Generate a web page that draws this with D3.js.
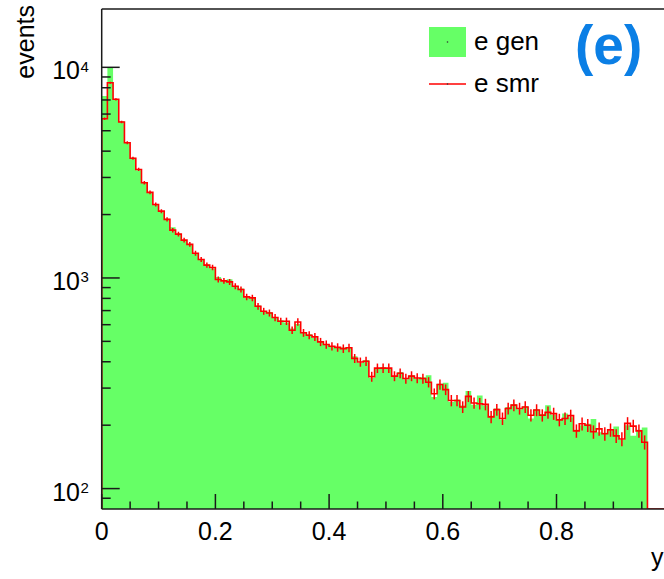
<!DOCTYPE html>
<html>
<head>
<meta charset="utf-8">
<script src="https://cdn.jsdelivr.net/npm/d3@7"></script>
<style>
  html, body { margin: 0; padding: 0; background: #ffffff; }
  svg { display: block; font-family: "Liberation Sans", Arial, Helvetica, sans-serif; }
</style>
</head>
<body>
<svg id="chart" width="664" height="579"></svg>
<script>
// Histogram binning along y (0.01 wide bins starting at 0)
const binStart = 0;
const binWidth = 0.01;

// Generated-level electron counts per bin
const genCounts = [
  7300, 10000, 7050, 5550, 4400, 3720, 3250, 2850, 2560, 2240,
  2060, 1910, 1740, 1620, 1500, 1450, 1300, 1230, 1160, 1110,
  1010, 965, 985, 905, 890, 810, 800, 740, 690, 690,
  645, 630, 615, 575, 605, 550, 540, 520, 500, 480,
  470, 465, 468, 470, 425, 395, 408, 335, 370, 378,
  370, 340, 358, 330, 345, 332, 338, 345, 272, 315,
  318, 258, 265, 248, 291, 250, 277, 248, 222, 240,
  212, 244, 252, 238, 246, 215, 238, 226, 249, 224,
  214, 227, 218, 190, 200, 203, 214, 185, 184, 188,
  197, 170, 200, 178, 190, 195
];

// Smeared electron counts per bin
const smrCounts = [
  5700, 8450, 7050, 5500, 4385, 3700, 3275, 2830, 2550, 2234,
  2076, 1897, 1687, 1615, 1513, 1443, 1310, 1224, 1151, 1122,
  984, 969, 958, 914, 882, 813, 804, 734, 695, 682,
  649, 623, 623, 565, 618, 549, 535, 525, 497, 483,
  474, 468, 462, 466, 415, 399, 402, 340, 373, 373,
  373, 342, 353, 333, 342, 335, 333, 320, 282, 312,
  295, 262, 262, 244, 274, 255, 253, 251, 219, 237,
  215, 240, 249, 240, 244, 223, 236, 223, 230, 227,
  212, 215, 222, 188, 203, 200, 186, 192, 182, 190,
  178, 172, 204, 198, 188, 166
];

// Axis ticks
const xMajorTicks = [0, 0.2, 0.4, 0.6, 0.8];
const xTickLabels = ["0", "0.2", "0.4", "0.6", "0.8"];
const xMinorStep = 0.05;
const yMajorTicks = [100, 1000, 10000];
const yTickExponents = ["2", "3", "4"];

const legendLabels = ["e gen", "e smr"];
const yTitle = "events";
const xTitle = "y";
const panelTag = "(e)";

const greenFill = "#66ff66";
const smrColor = "#ff0000";

const svg = d3.select("#chart");

const frame = { left: 101.7, right: 670.2, top: 9, bottom: 509 };
const x = d3.scaleLinear().domain([0, 1]).range([frame.left, frame.right]);
const y = d3.scaleLog().domain([80, 18920]).range([frame.bottom, frame.top]);
const yFloor = y.domain()[0];

svg.append("defs").append("clipPath").attr("id", "plotClip")
  .append("rect")
  .attr("x", frame.left).attr("y", frame.top)
  .attr("width", frame.right - frame.left).attr("height", frame.bottom - frame.top);

const plot = svg.append("g").attr("clip-path", "url(#plotClip)");

const binLo = i => binStart + i * binWidth;
const nBins = genCounts.length;
const lastEdge = binLo(nBins);

// Filled histogram of generated counts
const genPts = genCounts.map((v, i) => [binLo(i), v]);
genPts.push([lastEdge, genCounts[nBins - 1]]);
const genArea = d3.area()
  .curve(d3.curveStepAfter)
  .x(d => x(d[0]))
  .y0(y(yFloor))
  .y1(d => y(Math.max(d[1], yFloor)));
plot.append("path")
  .attr("d", genArea(genPts))
  .attr("fill", greenFill)
  .attr("stroke", "none");

// Smeared histogram outline
const smrPts = [[binStart, yFloor]];
smrCounts.forEach((v, i) => smrPts.push([binLo(i), v]));
smrPts.push([lastEdge, yFloor]);
smrPts.push([x.domain()[1], yFloor]);
const smrLine = d3.line()
  .curve(d3.curveStepAfter)
  .x(d => x(d[0]))
  .y(d => y(Math.max(d[1], yFloor)));
plot.append("path")
  .attr("d", smrLine(smrPts))
  .attr("fill", "none")
  .attr("stroke", smrColor)
  .attr("stroke-width", 1.6);

// Poisson error bars on the smeared histogram
plot.append("g").selectAll("line")
  .data(smrCounts)
  .join("line")
  .attr("x1", (v, i) => x(binLo(i) + binWidth / 2))
  .attr("x2", (v, i) => x(binLo(i) + binWidth / 2))
  .attr("y1", v => y(v + Math.sqrt(v)))
  .attr("y2", v => y(Math.max(v - Math.sqrt(v), yFloor)))
  .attr("stroke", smrColor)
  .attr("stroke-width", 1.5);

// Frame and axes
const axisColor = "#1a1a1a";
svg.append("line")
  .attr("x1", frame.left).attr("x2", frame.right)
  .attr("y1", frame.top).attr("y2", frame.top)
  .attr("stroke", axisColor).attr("stroke-width", 1.5);

const axes = svg.append("g").attr("stroke", axisColor).attr("stroke-width", 1.5);

// x ticks (inward)
const xMinor = d3.range(0, 1 + 1e-9, xMinorStep).filter(t => !xMajorTicks.some(m => Math.abs(m - t) < 1e-9));
axes.selectAll(".xmaj").data(xMajorTicks).join("line")
  .attr("x1", d => x(d)).attr("x2", d => x(d))
  .attr("y1", frame.bottom).attr("y2", frame.bottom - 15);
axes.selectAll(".xmin").data(xMinor).join("line")
  .attr("class", "xmin")
  .attr("x1", d => x(d)).attr("x2", d => x(d))
  .attr("y1", frame.bottom).attr("y2", frame.bottom - 7.5);

// y ticks (inward)
const yMinor = [];
[10, 100, 1000, 10000].forEach(dec => {
  for (let k = 2; k <= 9; k++) {
    const v = dec * k;
    if (v > y.domain()[0] && v < y.domain()[1]) yMinor.push(v);
  }
});
axes.selectAll(".ymaj").data(yMajorTicks).join("line")
  .attr("class", "ymaj")
  .attr("x1", frame.left).attr("x2", frame.left + 18)
  .attr("y1", d => y(d)).attr("y2", d => y(d));
axes.selectAll(".ymin").data(yMinor).join("line")
  .attr("class", "ymin")
  .attr("x1", frame.left).attr("x2", frame.left + 9)
  .attr("y1", d => y(d)).attr("y2", d => y(d));

axes.append("line")
  .attr("x1", frame.left).attr("x2", frame.left)
  .attr("y1", frame.top).attr("y2", frame.bottom);
axes.append("line")
  .attr("x1", frame.left).attr("x2", frame.right)
  .attr("y1", frame.bottom).attr("y2", frame.bottom);

// Tick labels
svg.append("g").selectAll("text").data(xMajorTicks).join("text")
  .attr("x", d => x(d)).attr("y", frame.bottom + 31)
  .attr("text-anchor", "middle")
  .attr("font-size", 25)
  .attr("fill", "#000")
  .text((d, i) => xTickLabels[i]);

const yl = svg.append("g").selectAll("g").data(yMajorTicks).join("g");
yl.append("text")
  .attr("x", 80).attr("y", d => y(d) + 12)
  .attr("text-anchor", "end")
  .attr("font-size", 25)
  .attr("fill", "#000")
  .text("10");
yl.append("text")
  .attr("x", 80.5).attr("y", d => y(d) + 4.5)
  .attr("text-anchor", "start")
  .attr("font-size", 15)
  .attr("fill", "#000")
  .text((d, i) => yTickExponents[i]);

// Axis titles
svg.append("text")
  .attr("transform", "translate(34,5) rotate(-90)")
  .attr("text-anchor", "end")
  .attr("font-size", 25)
  .attr("fill", "#000")
  .text(yTitle);
svg.append("text")
  .attr("x", 651).attr("y", 566)
  .attr("font-size", 25)
  .attr("fill", "#000")
  .text(xTitle);

// Legend
const legend = svg.append("g");
legend.append("rect")
  .attr("x", 429).attr("y", 27).attr("width", 37).attr("height", 30)
  .attr("fill", greenFill);
legend.append("circle").attr("cx", 447.5).attr("cy", 42).attr("r", 0.8).attr("fill", "#333");
legend.append("line")
  .attr("x1", 429).attr("x2", 466).attr("y1", 84).attr("y2", 84)
  .attr("stroke", smrColor).attr("stroke-width", 1.4);
legend.append("circle").attr("cx", 447.5).attr("cy", 84).attr("r", 0.8).attr("fill", "#333");
legend.selectAll("text").data(legendLabels).join("text")
  .attr("x", 474).attr("y", (d, i) => i === 0 ? 50 : 92)
  .attr("font-size", 26)
  .attr("fill", "#000")
  .text(d => d);

// Panel tag
svg.append("text")
  .attr("x", 575).attr("y", 64)
  .attr("font-size", 55)
  .attr("font-weight", "bold")
  .attr("fill", "#0b7fe5")
  .text(panelTag);
</script>
</body>
</html>
